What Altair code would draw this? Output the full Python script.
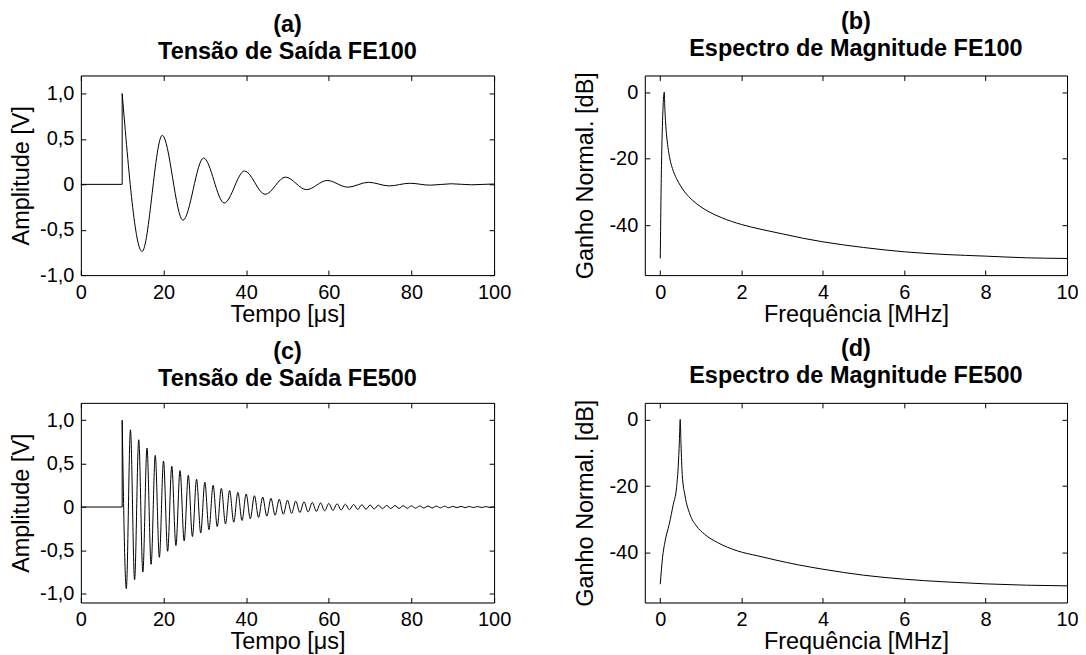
import altair as alt
import pandas as pd

FONT = "Liberation Sans"

# ---------------- (a) Tensão de Saída FE100 ----------------
a_pre_t = [0, 10, 10]
a_pre_v = [0, 0, 1.0]
a_t = [10, 14.8, 19.7, 24.7, 29.7, 34.7, 39.6, 44.6, 49.5, 54.6, 59.6,
       64.6, 69.6, 74.6, 79.6, 84.6, 89.6, 94.6, 99.6, 100]
a_v = [1.0, -0.74, 0.54, -0.395, 0.29, -0.205, 0.148, -0.11, 0.08, -0.058,
       0.043, -0.031, 0.023, -0.017, 0.012, -0.009, 0.0065, -0.0047, 0.0034, 0.003]

# ---------------- (c) Tensão de Saída FE500 ----------------
c_pre_t = [0, 10, 10]
c_pre_v = [0, 0, 1.0]
c_t = [10, 11, 12, 13, 14, 15, 16, 17, 18, 19, 20, 21, 22, 23, 24, 25, 26, 27, 28, 29,
       30, 31, 32, 33, 34, 35, 36, 37, 38, 39, 40, 41, 42, 43, 44, 45, 46, 47, 48, 49,
       50, 51, 52, 53, 54, 55, 56, 57, 58, 59, 60, 61, 62, 63, 64, 65, 66, 67, 68, 69,
       70, 71, 72, 73, 74, 75, 76, 77, 78, 79, 80, 81, 82, 83, 84, 85, 86, 87, 88, 89,
       90, 91, 92, 93, 94, 95, 96, 97, 98, 99, 100]
c_v = [1.0, -0.94, 0.89, -0.84, 0.775, -0.75, 0.68, -0.66, 0.595, -0.58,
       0.53, -0.51, 0.47, -0.445, 0.42, -0.39, 0.365, -0.34, 0.32, -0.30,
       0.285, -0.26, 0.25, -0.225, 0.215, -0.195, 0.19, -0.175, 0.17, -0.155,
       0.15, -0.135, 0.13, -0.12, 0.115, -0.105, 0.10, -0.095, 0.088, -0.083,
       0.078, -0.073, 0.068, -0.064, 0.06, -0.056, 0.053, -0.05, 0.047, -0.044,
       0.041, -0.039, 0.037, -0.035, 0.033, -0.031, 0.029, -0.028, 0.026, -0.025,
       0.023, -0.022, 0.021, -0.02, 0.019, -0.018, 0.017, -0.016, 0.015, -0.014,
       0.0135, -0.013, 0.012, -0.0115, 0.011, -0.0105, 0.01, -0.0095, 0.009, -0.0085,
       0.008, -0.0077, 0.0073, -0.007, 0.0066, -0.0063, 0.006, -0.0057, 0.0054, -0.0052,
       0.005]

# ---------------- (b) Espectro de Magnitude FE100 ----------------
b_f = [0, 0.03, 0.1, 0.11, 0.13, 0.16, 0.2, 0.25, 0.3, 0.4, 0.5, 0.6, 0.7, 0.8, 0.9,
       1.0, 1.2, 1.5, 2.0, 2.5, 3.0, 3.5, 4.0, 5.0, 6.0, 7.0, 8.0, 9.0, 10.0]
b_db = [-50, -22, 0, -4, -9, -13.5, -17.5, -20.8, -23, -26, -28.2, -30, -31.4, -32.6, -33.6,
        -34.5, -36, -37.7, -39.8, -41.3, -42.6, -43.9, -45.0, -46.7, -48.0, -48.8, -49.3,
        -49.8, -50]

# ---------------- (d) Espectro de Magnitude FE500 ----------------
d_f = [0, 0.056, 0.12, 0.22, 0.32, 0.40, 0.44, 0.47, 0.49, 0.51, 0.54, 0.61, 0.73,
       0.89, 1.09, 1.41, 1.9, 2.4, 2.82, 3.4, 4.0, 5.0, 6.0, 7.0, 8.0, 9.0, 10.0]
d_db = [-49.5, -41.5, -36.5, -31.5, -25.5, -20.5, -14.5, -6.5, 0, -7.5, -16.5, -23, -28.5,
        -32, -34.5, -37, -39.5, -41.0, -42.2, -43.7, -45.0, -46.8, -48.0, -48.8, -49.4,
        -49.8, -50]

time_ticks = [0, 20, 40, 60, 80, 100]
amp_ticks = [-1.0, -0.5, 0, 0.5, 1.0]
freq_ticks = [0, 2, 4, 6, 8, 10]
db_ticks = [-40, -20, 0]

W_LEFT, W_RIGHT, H = 414, 423, 200
TICK = alt.ExprRef(expr="-5")
comma_expr = ("datum.value == 0 ? '0' : (datum.value < 0 ? '-' : '') + "
              "replace(format(abs(datum.value), '.1f'), '.', ',')")
int_expr = "(datum.value < 0 ? '-' : '') + format(abs(datum.value), 'd')"


def base_axis(**kw):
    return alt.Axis(grid=False, tickSize=TICK, tickColor="black", domainColor="black",
                    domainWidth=1, tickWidth=1, labelColor="black", titleColor="black",
                    labelFont=FONT, titleFont=FONT, labelFontSize=20, titleFontSize=23.5,
                    titleFontWeight="normal", labelFlush=False, labelOverlap=False, **kw)


def panel(title, pre, main, interp, xdom, ydom, xvals, yvals, xtitle, ytitle, yexpr, xexpr, w):
    xs = alt.Scale(domain=xdom, nice=False, zero=False)
    ys = alt.Scale(domain=ydom, nice=False, zero=False)
    xa = base_axis(orient="bottom", values=xvals, title=xtitle, labelExpr=xexpr,
                   labelPadding=12, titlePadding=0)
    ya = base_axis(orient="left", values=yvals, title=ytitle, labelExpr=yexpr,
                   labelPadding=12, titlePadding=4, minExtent=43, maxExtent=43)
    xt = base_axis(orient="top", values=xvals, labels=False, title=None)
    yr = base_axis(orient="right", values=yvals, labels=False, title=None)

    layers = []
    if pre is not None:
        layers.append(alt.Chart(pre).mark_line(color="black", strokeWidth=1).encode(
            x=alt.X("x:Q", scale=xs, axis=xa), y=alt.Y("y:Q", scale=ys, axis=ya)))
        main_axes = dict(x=alt.X("x:Q", scale=xs, axis=None), y=alt.Y("y:Q", scale=ys, axis=None))
    else:
        main_axes = dict(x=alt.X("x:Q", scale=xs, axis=xa), y=alt.Y("y:Q", scale=ys, axis=ya))
    layers.append(alt.Chart(main).mark_line(color="black", strokeWidth=1,
                                            interpolate=interp).encode(**main_axes))
    layers.append(alt.Chart(main).mark_line(strokeOpacity=0).encode(
        x=alt.X("x:Q", scale=xs, axis=xt), y=alt.Y("y:Q", scale=ys, axis=yr)))
    return alt.layer(*layers).resolve_axis(x="independent", y="independent").properties(
        width=w, height=H,
        title=alt.TitleParams(text=title, fontSize=23.5, fontWeight="bold", font=FONT,
                              lineHeight=27, offset=11.6, anchor="middle", color="black"))


df = lambda xs, ys: pd.DataFrame({"x": xs, "y": ys})

pa = panel(["(a)", "Tensão de Saída FE100"], df(a_pre_t, a_pre_v), df(a_t, a_v), "monotone",
           [0, 100], [-1.0, 1.2], time_ticks, amp_ticks, "Tempo [μs]", "Amplitude [V]",
           comma_expr, "format(datum.value, 'd')", W_LEFT)
pb = panel(["(b)", "Espectro de Magnitude FE100"], None, df(b_f, b_db), "monotone",
           [-0.38, 10], [-55, 5], freq_ticks, db_ticks, "Frequência [MHz]", "Ganho Normal. [dB]",
           int_expr, "format(datum.value, 'd')", W_RIGHT)
pc = panel(["(c)", "Tensão de Saída FE500"], df(c_pre_t, c_pre_v), df(c_t, c_v), "monotone",
           [0, 100], [-1.1, 1.2], time_ticks, amp_ticks, "Tempo [μs]", "Amplitude [V]",
           comma_expr, "format(datum.value, 'd')", W_LEFT)
pd_ = panel(["(d)", "Espectro de Magnitude FE500"], None, df(d_f, d_db), "monotone",
            [-0.38, 10], [-55, 5], freq_ticks, db_ticks, "Frequência [MHz]", "Ganho Normal. [dB]",
            int_expr, "format(datum.value, 'd')", W_RIGHT)

chart = alt.concat(pa, pb, pc, pd_, columns=2, bounds="flush",
                   spacing=alt.RowColnumber(row=128, column=151)).properties(
    padding={"left": 1, "top": 0, "right": -1, "bottom": 0}
).configure_view(stroke=None).configure(font=FONT, background="white")

chart.save("out.html", embed_options={"renderer": "svg", "actions": False})
